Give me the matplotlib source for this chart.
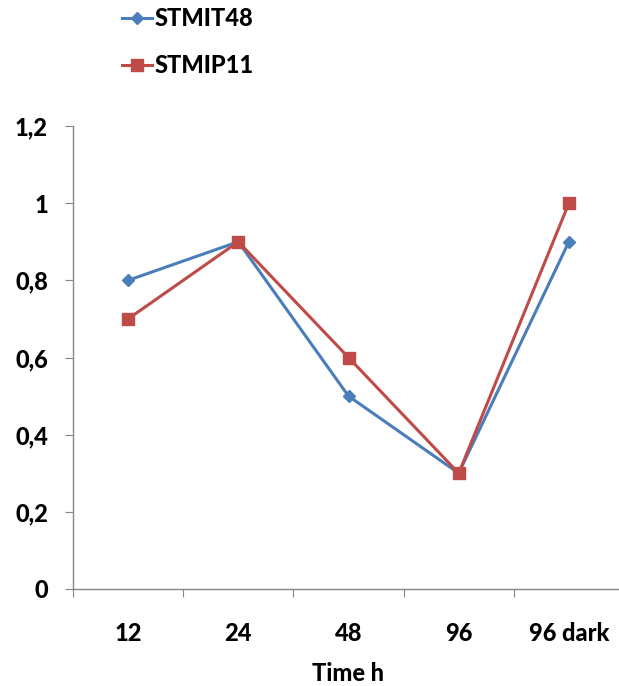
import matplotlib
matplotlib.use('Agg')
import matplotlib.pyplot as plt
import numpy as np

categories = ['12', '24', '48', '96', '96 dark']
stmit48 = [0.8, 0.9, 0.5, 0.3, 0.9]
stmip11 = [0.7, 0.9, 0.6, 0.3, 1.0]
y_ticks = [0, 0.2, 0.4, 0.6, 0.8, 1.0, 1.2]

plt.rcParams['font.family'] = ['Lato', 'DejaVu Sans']
W = 'black'

fig = plt.figure(figsize=(6.19, 6.86), dpi=100)
ax = fig.add_axes([73 / 619, 97 / 686, 551 / 619, 463 / 686])

x = np.arange(len(categories))
ax.plot(x, stmit48, color='#4A7EBB', lw=2.2, marker='D', ms=6, label='STMIT48')
ax.plot(x, stmip11, color='#BE4B48', lw=2.2, marker='s', ms=8, label='STMIP11')

ax.set_xlim(-0.5, len(categories) - 0.5)
ax.set_ylim(0, 1.2)
ax.set_yticks(y_ticks)
ax.set_yticklabels([('%g' % v).replace('.', ',') for v in y_ticks], fontsize=17, fontweight=W)
ax.set_xticks(np.arange(-0.5, len(categories)), labels=[])
ax.set_xticks(x, minor=True)
ax.set_xticklabels(categories, minor=True, fontsize=17, fontweight=W)
ax.tick_params(axis='x', which='major', length=6, color='#868686', direction='out')
ax.tick_params(axis='x', which='minor', length=0, pad=24)
ax.tick_params(axis='y', length=6, color='#868686', pad=12)
ax.set_xlabel('Time h', fontsize=17, fontweight=W, labelpad=12)

for s in ['top', 'right']:
    ax.spines[s].set_visible(False)
for s in ['left', 'bottom']:
    ax.spines[s].set_color('#868686')
    ax.spines[s].set_linewidth(1)
ax.spines['bottom'].set_clip_on(False)

leg = fig.legend(loc='upper left', bbox_to_anchor=(101 / 619, 1 + 14 / 686),
                 frameon=False, handlelength=1.25, handletextpad=0.1,
                 labelspacing=1.0, prop={'weight': W, 'size': 17})

fig.savefig('out.png', dpi=100)
